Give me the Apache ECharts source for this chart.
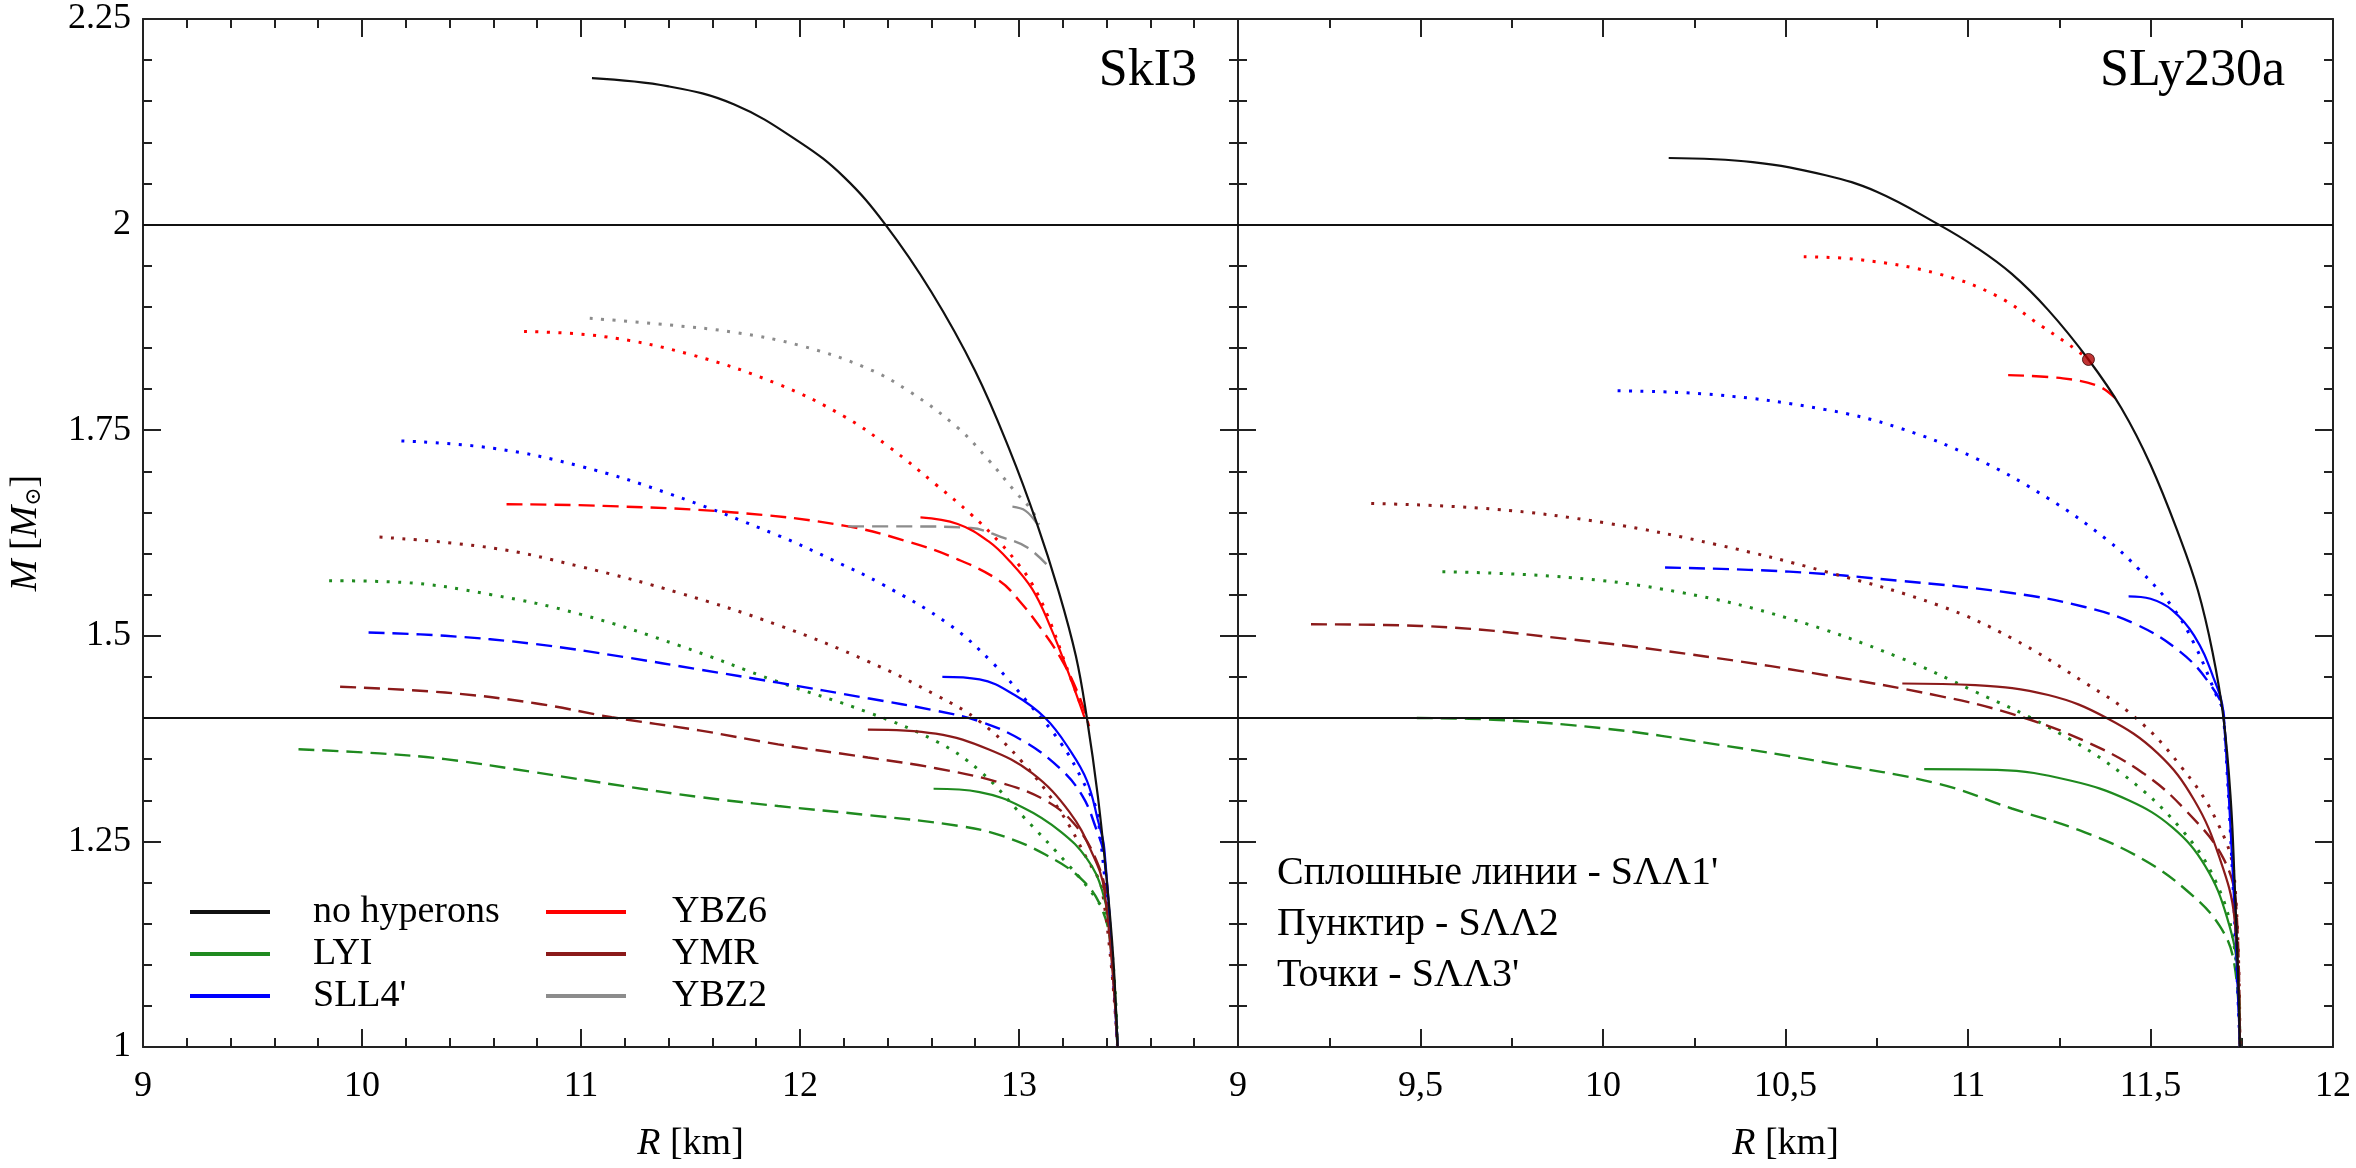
<!DOCTYPE html>
<html lang="ru">
<head>
    <meta charset="UTF-8">
    <title>M-R SkI3 / SLy230a</title>
    <script src="https://cdn.jsdelivr.net/npm/echarts@6/dist/echarts.min.js"></script>
    <style>
        html, body { margin: 0; padding: 0; background: #fff; }
        #main { width: 2356px; height: 1168px; }
    </style>
</head>
<body>
<div id="main"></div>
<script type="text/javascript">
    // точки [R, M], снятые с рисунка
    // --- левая панель, SkI3 ---
    var skI3_noHyp = [[11.05,2.178],[11.4,2.168],[11.7,2.146],[12.0,2.100],[12.2,2.058],[12.39,2.0],[12.6,1.918],[12.8,1.822],[12.96,1.724],[13.08,1.638],[13.18,1.555],[13.26,1.475],[13.31,1.40],[13.36,1.305],[13.40,1.205],[13.43,1.11],[13.45,1.0]];

    var skI3_YBZ2_solid = [[12.97,1.657],[13.03,1.652],[13.08,1.637]];
    var skI3_YBZ2_dash = [[12.22,1.633],[12.5,1.633],[12.78,1.631],[12.92,1.620],[13.04,1.607],[13.15,1.58]];
    var skI3_YBZ2_dot = [[11.04,1.886],[11.4,1.878],[11.7,1.869],[12.0,1.853],[12.3,1.826],[12.5,1.797],[12.72,1.753],[12.86,1.714],[12.98,1.676],[13.06,1.652],[13.09,1.635]];

    var skI3_YBZ6_solid = [[12.55,1.644],[12.72,1.636],[12.86,1.615],[12.96,1.59],[13.06,1.557],[13.14,1.513],[13.23,1.452],[13.30,1.40]];
    var skI3_YBZ6_dash = [[10.66,1.660],[11.1,1.658],[11.7,1.650],[12.2,1.634],[12.5,1.614],[12.72,1.593],[12.91,1.567],[13.0,1.543],[13.10,1.509],[13.19,1.473],[13.27,1.43],[13.32,1.39]];
    var skI3_YBZ6_dot = [[10.74,1.870],[11.1,1.864],[11.5,1.842],[11.9,1.806],[12.2,1.767],[12.41,1.729],[12.62,1.684],[12.78,1.648],[12.91,1.614],[13.0,1.586],[13.06,1.563],[13.13,1.525],[13.22,1.46],[13.29,1.41]];

    var skI3_SLL4_solid = [[12.65,1.450],[12.82,1.447],[12.98,1.428],[13.12,1.40],[13.23,1.362],[13.31,1.324],[13.36,1.276],[13.39,1.24],[13.45,1.0]];
    var skI3_SLL4_dash = [[10.03,1.504],[10.38,1.500],[10.79,1.490],[11.2,1.474],[11.54,1.459],[11.9,1.443],[12.31,1.424],[12.62,1.409],[12.82,1.396],[13.02,1.372],[13.19,1.338],[13.29,1.305],[13.35,1.267],[13.39,1.23],[13.45,1.0]];
    var skI3_SLL4_dot = [[10.18,1.737],[10.6,1.728],[11.0,1.706],[11.4,1.673],[11.9,1.622],[12.15,1.592],[12.38,1.562],[12.68,1.514],[12.88,1.467],[13.04,1.419],[13.19,1.370],[13.29,1.324],[13.36,1.28],[13.45,1.0]];

    var skI3_YMR_solid = [[12.31,1.386],[12.62,1.381],[12.86,1.362],[13.06,1.333],[13.23,1.286],[13.33,1.238],[13.39,1.19],[13.45,1.0]];
    var skI3_YMR_dash = [[9.90,1.438],[10.38,1.431],[10.79,1.418],[11.14,1.401],[11.54,1.385],[11.9,1.368],[12.31,1.352],[12.62,1.339],[12.92,1.321],[13.12,1.30],[13.25,1.272],[13.35,1.229],[13.40,1.18],[13.45,1.0]];
    var skI3_YMR_dot = [[10.08,1.620],[10.59,1.607],[11.0,1.584],[11.45,1.552],[11.9,1.513],[12.31,1.469],[12.62,1.428],[12.82,1.396],[13.02,1.345],[13.19,1.286],[13.31,1.229],[13.38,1.19],[13.45,1.0]];

    var skI3_LYI_solid = [[12.61,1.314],[12.82,1.310],[13.02,1.291],[13.19,1.262],[13.31,1.229],[13.38,1.19],[13.42,1.13],[13.45,1.0]];
    var skI3_LYI_dash = [[9.71,1.362],[10.08,1.357],[10.38,1.350],[10.79,1.334],[11.2,1.317],[11.54,1.304],[11.9,1.293],[12.31,1.282],[12.72,1.269],[12.92,1.257],[13.12,1.234],[13.29,1.203],[13.38,1.167],[13.42,1.12],[13.45,1.0]];
    var skI3_LYI_dot = [[9.85,1.567],[10.18,1.565],[10.59,1.550],[11.0,1.526],[11.45,1.488],[11.9,1.444],[12.31,1.407],[12.62,1.372],[12.82,1.336],[13.02,1.280],[13.23,1.22],[13.35,1.181],[13.41,1.15],[13.45,1.0]];

    // --- правая панель, SLy230a ---
    var sly_noHyp = [[10.18,2.081],[10.41,2.076],[10.61,2.060],[10.75,2.040],[10.92,2.0],[11.02,1.973],[11.12,1.940],[11.22,1.896],[11.33,1.836],[11.42,1.777],[11.50,1.708],[11.58,1.620],[11.63,1.555],[11.67,1.48],[11.70,1.40],[11.72,1.30],[11.73,1.205],[11.74,1.086],[11.745,1.0]];

    var sly_YBZ6_point = [[11.33,1.836]];
    var sly_YBZ6_dash = [[11.11,1.817],[11.26,1.813],[11.36,1.803],[11.41,1.786]];
    var sly_YBZ6_dot = [[10.55,1.961],[10.71,1.957],[10.92,1.940],[11.08,1.913],[11.20,1.877],[11.28,1.853],[11.33,1.836]];

    var sly_SLL4_solid = [[11.44,1.548],[11.50,1.545],[11.56,1.531],[11.62,1.50],[11.67,1.452],[11.70,1.405],[11.745,1.0]];
    var sly_SLL4_dash = [[10.17,1.583],[10.51,1.578],[10.81,1.567],[11.12,1.552],[11.32,1.535],[11.46,1.514],[11.58,1.481],[11.66,1.443],[11.70,1.405],[11.745,1.0]];
    var sly_SLL4_dot = [[10.04,1.798],[10.31,1.793],[10.61,1.775],[10.81,1.753],[11.02,1.716],[11.22,1.667],[11.38,1.617],[11.47,1.58],[11.56,1.535],[11.62,1.49],[11.68,1.428],[11.70,1.405],[11.745,1.0]];

    var sly_YMR_solid = [[10.82,1.442],[11.02,1.440],[11.22,1.428],[11.38,1.40],[11.52,1.357],[11.62,1.30],[11.69,1.229],[11.73,1.157],[11.745,1.0]];
    var sly_YMR_dash = [[9.20,1.514],[9.50,1.512],[9.905,1.496],[10.31,1.473],[10.61,1.452],[10.92,1.427],[11.12,1.405],[11.32,1.372],[11.48,1.333],[11.60,1.286],[11.70,1.229],[11.735,1.17],[11.745,1.0]];
    var sly_YMR_dot = [[9.365,1.661],[9.70,1.654],[10.01,1.637],[10.31,1.611],[10.61,1.578],[10.92,1.537],[11.12,1.497],[11.32,1.443],[11.46,1.40],[11.58,1.343],[11.68,1.276],[11.73,1.205],[11.745,1.0]];

    var sly_LYI_solid = [[10.88,1.338],[11.08,1.337],[11.28,1.324],[11.44,1.30],[11.56,1.267],[11.65,1.22],[11.71,1.157],[11.74,1.086],[11.745,1.0]];
    var sly_LYI_dash = [[9.49,1.400],[9.70,1.398],[10.01,1.387],[10.31,1.368],[10.61,1.346],[10.92,1.32],[11.12,1.29],[11.32,1.261],[11.48,1.228],[11.60,1.19],[11.69,1.147],[11.73,1.10],[11.745,1.0]];
    var sly_LYI_dot = [[9.56,1.578],[9.905,1.571],[10.21,1.553],[10.51,1.521],[10.81,1.474],[11.02,1.432],[11.22,1.389],[11.42,1.333],[11.58,1.267],[11.68,1.20],[11.73,1.12],[11.745,1.0]];

    // горизонтальные линии 2 M_sun и 1.4 M_sun
    var refMasses = [2.0, 1.4];

    // подписи осей
    var leftTicksR = [9, 10, 11, 12, 13];
    var massLabels = ['1', '1.25', '1.5', '1.75', '2', '2.25'];

    var colors = {
        'no hyperons': '#111111',
        'LYI': '#1f8a1f',
        "SLL4'": '#0000ff',
        'YBZ6': '#ff0000',
        'YMR': '#8b1a1a',
        'YBZ2': '#8c8c8c'
    };
    var FONT = "'Liberation Serif', 'Times New Roman', 'DejaVu Serif', serif";

    var myChart = echarts.init(document.getElementById('main'));

    function curve(name, data, kind, panel) {
        var c = colors[name];
        var lt = 'solid', w = 2.2;
        if (kind === 'dash') { lt = [16, 8]; w = 2.4; }
        if (kind === 'dot') { lt = [3, 8.5]; w = 3; }
        return {
            name: name,
            type: 'line',
            xAxisIndex: panel * 2,
            yAxisIndex: panel * 2,
            data: data,
            smooth: 0.4,
            symbol: 'none',
            silent: true,
            color: c,
            z: name === 'no hyperons' ? 5 : (kind === 'solid' ? 4 : 3),
            lineStyle: { color: c, width: w, type: lt }
        };
    }

    function refLines() {
        return {
            silent: true,
            symbol: 'none',
            label: { show: false },
            lineStyle: { color: '#111', width: 2, type: 'solid' },
            data: refMasses.map(function (m) { return { yAxis: m }; })
        };
    }

    var series = [];
    var nh0 = curve('no hyperons', skI3_noHyp, 'solid', 0);
    nh0.markLine = refLines();
    var nh1 = curve('no hyperons', sly_noHyp, 'solid', 1);
    nh1.markLine = refLines();
    series.push(nh0, nh1);

    series.push(
        curve('LYI', skI3_LYI_solid, 'solid', 0), curve('LYI', skI3_LYI_dash, 'dash', 0), curve('LYI', skI3_LYI_dot, 'dot', 0),
        curve("SLL4'", skI3_SLL4_solid, 'solid', 0), curve("SLL4'", skI3_SLL4_dash, 'dash', 0), curve("SLL4'", skI3_SLL4_dot, 'dot', 0),
        curve('YBZ6', skI3_YBZ6_solid, 'solid', 0), curve('YBZ6', skI3_YBZ6_dash, 'dash', 0), curve('YBZ6', skI3_YBZ6_dot, 'dot', 0),
        curve('YMR', skI3_YMR_solid, 'solid', 0), curve('YMR', skI3_YMR_dash, 'dash', 0), curve('YMR', skI3_YMR_dot, 'dot', 0),
        curve('YBZ2', skI3_YBZ2_solid, 'solid', 0), curve('YBZ2', skI3_YBZ2_dash, 'dash', 0), curve('YBZ2', skI3_YBZ2_dot, 'dot', 0),

        curve('LYI', sly_LYI_solid, 'solid', 1), curve('LYI', sly_LYI_dash, 'dash', 1), curve('LYI', sly_LYI_dot, 'dot', 1),
        curve("SLL4'", sly_SLL4_solid, 'solid', 1), curve("SLL4'", sly_SLL4_dash, 'dash', 1), curve("SLL4'", sly_SLL4_dot, 'dot', 1),
        curve('YBZ6', sly_YBZ6_dash, 'dash', 1), curve('YBZ6', sly_YBZ6_dot, 'dot', 1),
        curve('YMR', sly_YMR_solid, 'solid', 1), curve('YMR', sly_YMR_dash, 'dash', 1), curve('YMR', sly_YMR_dot, 'dot', 1)
    );
    series.push({
        name: 'YBZ6',
        type: 'scatter',
        xAxisIndex: 2,
        yAxisIndex: 2,
        data: sly_YBZ6_point,
        symbol: 'circle',
        symbolSize: 12,
        silent: true,
        z: 6,
        itemStyle: { color: '#b00000', borderColor: '#300', borderWidth: 1 }
    });

    var axisLine = { show: true, onZero: false, lineStyle: { color: '#222', width: 2 } };
    var tick = { show: true, inside: true, length: 18, lineStyle: { color: '#222', width: 2 } };
    var minor = function (n) { return { show: true, splitNumber: n, length: 9, lineStyle: { color: '#222', width: 2 } }; };
    var nameStyle = {
        color: '#000', fontFamily: FONT, fontSize: 38,
        rich: {
            i: { fontFamily: FONT, fontSize: 38, fontStyle: 'italic', color: '#000' },
            n: { fontFamily: FONT, fontSize: 38, color: '#000' },
            s: { fontFamily: FONT, fontSize: 22, color: '#000', verticalAlign: 'bottom', padding: [14, 0, 0, 0] }
        }
    };

    function xAxisDef(grid, pos, max, interval, minorN, showLabel, formatter) {
        return {
            type: 'value', gridIndex: grid, position: pos, min: 9, max: max, interval: interval,
            axisLine: axisLine, axisTick: tick, minorTick: minor(minorN), splitLine: { show: false },
            axisLabel: { show: showLabel, margin: 22, formatter: formatter, color: '#000', fontFamily: FONT, fontSize: 36 },
            name: showLabel ? '{i|R} {n|[km]}' : '', nameLocation: 'middle', nameGap: 78, nameTextStyle: nameStyle
        };
    }
    function yAxisDef(grid, pos, showLabel) {
        return {
            type: 'value', gridIndex: grid, position: pos, min: 1, max: 2.25, interval: 0.25,
            axisLine: axisLine, axisTick: tick, minorTick: minor(5), splitLine: { show: false },
            axisLabel: {
                show: showLabel, margin: 12, color: '#000', fontFamily: FONT, fontSize: 36,
                formatter: function (v) { return massLabels[Math.round((v - 1) / 0.25)]; }
            },
            name: showLabel ? '{i|M} {n|[}{i|M}{s|⊙}{n|]}' : '', nameLocation: 'middle', nameGap: 98, nameRotate: 90,
            nameTextStyle: nameStyle
        };
    }

    var option = {
        backgroundColor: '#fff',
        animation: false,
        textStyle: { fontFamily: FONT },
        grid: [
            { left: 143, top: 19, width: 1095, height: 1036 },
            { left: 1238, top: 19, width: 1095, height: 1036 }
        ],
        xAxis: [
            xAxisDef(0, 'bottom', 14, 1, 5, true, function (v) { return leftTicksR.indexOf(v) >= 0 ? String(v) : ''; }),
            xAxisDef(0, 'top', 14, 1, 5, false),
            xAxisDef(1, 'bottom', 12, 0.5, 2, true, function (v) { return String(v).replace('.', ','); }),
            xAxisDef(1, 'top', 12, 0.5, 2, false)
        ],
        yAxis: [
            yAxisDef(0, 'left', true),
            yAxisDef(0, 'right', false),
            yAxisDef(1, 'left', false),
            yAxisDef(1, 'right', false)
        ],
        title: [
            { text: 'SkI3', right: 1159, top: 45, padding: 0,
              textStyle: { fontFamily: FONT, fontSize: 52, fontWeight: 'normal', color: '#000' } },
            { text: 'SLy230a', right: 71, top: 45, padding: 0,
              textStyle: { fontFamily: FONT, fontSize: 52, fontWeight: 'normal', color: '#000' } },
            { text: "Сплошные линии - SΛΛ1'\nПунктир - SΛΛ2\nТочки - SΛΛ3'", left: 1277, top: 848, padding: 0,
              textStyle: { fontFamily: FONT, fontSize: 40, lineHeight: 51, fontWeight: 'normal', color: '#000' } }
        ],
        legend: [
            {
                left: 185, top: 886, orient: 'vertical', selectedMode: false,
                data: ['no hyperons', 'LYI', "SLL4'"],
                icon: 'rect', itemWidth: 80, itemHeight: 4, itemGap: 0,
                itemStyle: { borderWidth: 0 },
                textStyle: { fontFamily: FONT, fontSize: 38, lineHeight: 42, color: '#000', padding: [0, 0, 0, 38] }
            },
            {
                left: 541, top: 886, orient: 'vertical', selectedMode: false,
                data: ['YBZ6', 'YMR', 'YBZ2'],
                icon: 'rect', itemWidth: 80, itemHeight: 4, itemGap: 0,
                itemStyle: { borderWidth: 0 },
                textStyle: { fontFamily: FONT, fontSize: 38, lineHeight: 42, color: '#000', padding: [0, 0, 0, 41] }
            }
        ],
        series: series
    };

    myChart.setOption(option);
</script>
</body>
</html>
